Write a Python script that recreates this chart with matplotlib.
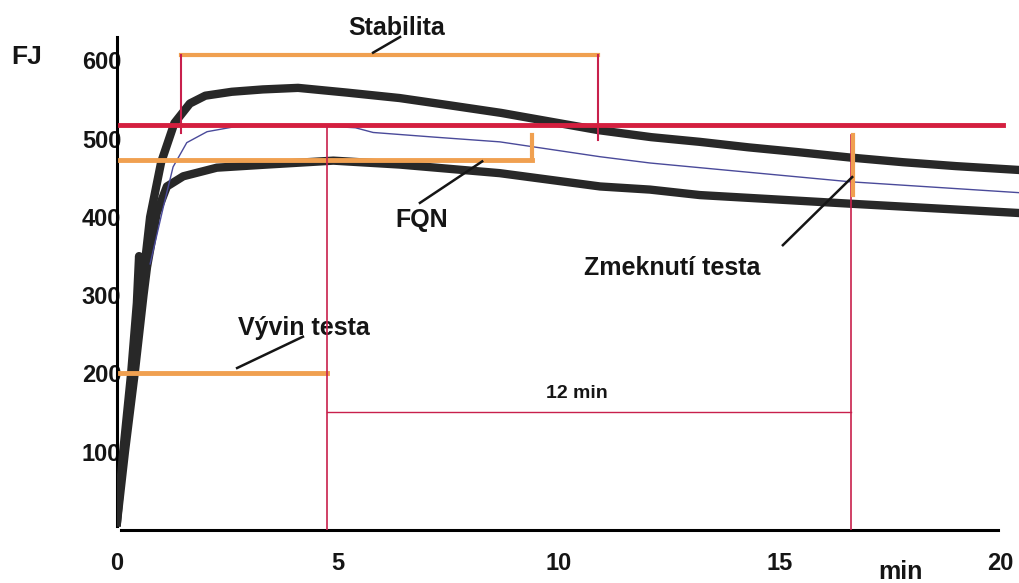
import numpy as np
import matplotlib
matplotlib.use("Agg")
import matplotlib.pyplot as plt

plt.rcParams['font.family'] = ['Liberation Sans', 'DejaVu Sans']
plt.rcParams['font.weight'] = 'bold'

# curves (minutes, FJ)
upper_t = [0, 0.14, 0.32, 0.45, 0.5, 0.55, 0.75, 1.0, 1.3, 1.65, 2.0, 2.6, 3.3, 4.1, 5.2, 6.4,
           7.5, 8.7, 9.8, 10.9, 12.1, 13.2, 14.3, 15.4, 16.6, 17.8, 19.0, 20.45]
upper_v = [10, 100, 200, 290, 350, 300, 400, 470, 520, 545, 555, 560, 563, 565, 559, 552,
           543, 533, 522, 511, 502, 496, 489, 483, 476, 470, 465, 460]
lower_t = [0, 0.18, 0.4, 0.6, 0.68, 0.9, 1.13, 1.5, 2.26, 3.4, 4.9, 6.4, 8.67, 10.94,
           12.07, 13.2, 16.6, 20.45]
lower_v = [10, 100, 200, 300, 336, 405, 439, 452, 463, 467, 472, 467, 456, 439,
           435, 428, 417, 405]
mid_t = [0.75, 1.05, 1.27, 1.58, 2.04, 2.63, 3.5, 4.5, 5.4, 5.8, 7.2, 8.67, 10.94, 12.07,
         13.2, 16.6, 20.45]
mid_v = [340, 413, 464, 495, 509, 515, 517, 517, 514, 508, 502, 496, 477, 469,
         463, 445, 431]

# characteristic values
consistency = 517
stab_start, stab_end, stab_level = 1.45, 10.89, 607
fqn_end, fqn_level = 9.4, 473
dev_time = 4.75
soft_time = 16.63
vyvin_level = 200
span_level = 151

orange = '#f0a050'
red = '#d41f3f'
thin_red = '#c8204c'
ink = '#151515'

fig = plt.figure(figsize=(10.2, 5.83), dpi=100)
ax = fig.add_axes([117 / 1020, 53 / 583, 903 / 1020, 493 / 583])
ax.set_xlim(0, 20.45)
ax.set_ylim(0, 630)

ax.plot(upper_t, upper_v, color='#282828', lw=6, solid_joinstyle='round', zorder=3)
ax.plot(lower_t, lower_v, color='#282828', lw=6, solid_joinstyle='round', zorder=3)
ax.plot(mid_t, mid_v, color='#4a4a9a', lw=1.0, zorder=4)

# stability bracket
ax.plot([stab_start, stab_end], [stab_level, stab_level], color=orange, lw=3, zorder=5)
ax.plot([stab_start, stab_start], [stab_level, 507], color=thin_red, lw=1.5, zorder=5)
ax.plot([stab_end, stab_end], [stab_level, 499], color=thin_red, lw=1.5, zorder=5)
# consistency line
ax.plot([0.07, 20.07], [consistency, consistency], color=red, lw=3.5, zorder=5)
# FQN bracket
ax.plot([0.07, fqn_end], [fqn_level, fqn_level], color=orange, lw=3.5, zorder=5)
ax.plot([fqn_end, fqn_end], [fqn_level, 505], color=orange, lw=3, zorder=5)
# development time
ax.plot([0.07, dev_time], [vyvin_level, vyvin_level], color=orange, lw=3.5, zorder=5)
ax.plot([dev_time, dev_time], [0, 515], color=thin_red, lw=1.2, zorder=5)
# softening
ax.plot([soft_time, soft_time], [0, 505], color=thin_red, lw=1.2, zorder=5)
ax.plot([soft_time + 0.03, soft_time + 0.03], [428, 505], color=orange, lw=3, zorder=6)
ax.plot([dev_time, soft_time], [span_level, span_level], color=thin_red, lw=1.0, zorder=5)
ax.text(10.42, 174, '12 min', fontsize=14, ha='center', va='center', color=ink)

# labels with leader lines
def label(txt, tx, ty, x0, y0, x1, y1):
    ax.text(tx, ty, txt, fontsize=18, ha='center', va='center', color=ink, clip_on=False)
    ax.plot([x0, x1], [y0, y1], color=ink, lw=1.8, clip_on=False, zorder=6)

label('Stabilita', 6.34, 642, 6.41, 630, 5.8, 610)
label('FQN', 6.91, 396, 6.86, 418, 8.27, 471)
label('Zmeknutí testa', 12.57, 335, 15.08, 364, 16.65, 451)
label('Vývin testa', 4.24, 258, 4.21, 247, 2.72, 207)

for s in ['top', 'right']:
    ax.spines[s].set_visible(False)
ax.spines['left'].set_linewidth(2.2)
ax.spines['bottom'].set_linewidth(2.2)
ax.spines['left'].set_bounds(5, 630)
ax.spines['bottom'].set_bounds(0.1, 19.95)

ax.set_xticks([0, 5, 10, 15, 20])
ax.set_yticks([100, 200, 300, 400, 500, 600])
ax.tick_params(axis='both', length=0, labelsize=17, colors=ink)
ax.tick_params(axis='y', pad=-3)
ax.tick_params(axis='x', pad=16)

fig.text(27 / 1020, 1 - 57 / 583, 'FJ', fontsize=19, ha='center', va='center', color=ink)
fig.text(900 / 1020, 1 - 572 / 583, 'min', fontsize=18, ha='center', va='center', color=ink)

fig.savefig('out.png', dpi=100)
